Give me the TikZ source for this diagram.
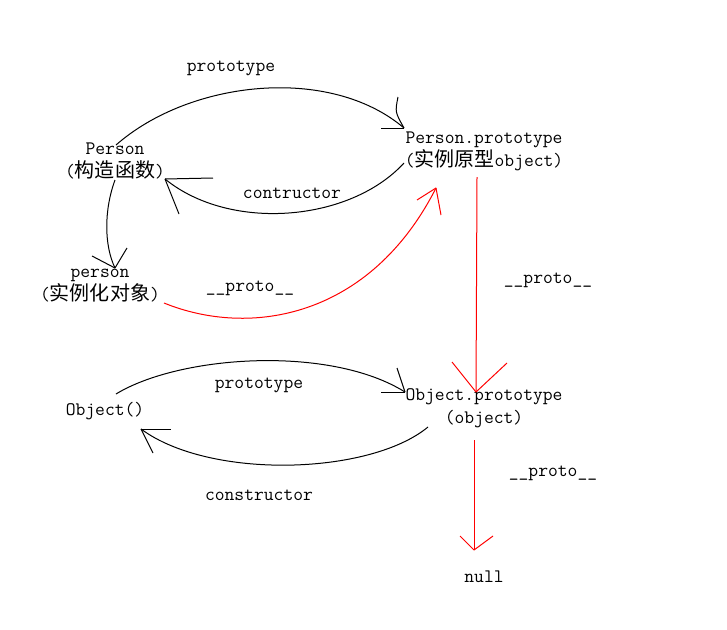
\documentclass[tikz,border=0pt]{standalone}
\usepackage{fontspec}
\newfontfamily\cjk{Noto Sans CJK SC}[Scale=1.05]
\usetikzlibrary{positioning}

\begin{document}
\begin{tikzpicture}[
    x=1pt, y=-1pt,
    word/.style={font=\ttfamily\fontsize{19.05}{23}\selectfont, inner sep=0pt, align=center},
    link/.style={line width=1pt, color=black},
    protolink/.style={line width=1pt, color=red}
  ]
    \useasboundingbox (0,0) rectangle (727,629);

    % objects
    \node[word] (Person) at (115,161) {Person\\({\cjk 构造函数})};
    \node[word] (PersonProto) at (484,151.5) {Person.prototype\\({\cjk 实例原型}object)};
    \node[word] (person) at (100,286) {person\\({\cjk 实例化对象})};
    \node[word] (Object) at (105,411) {Object()};
    \node[word] (ObjectProto) at (484,408.5) {Object.prototype\\(object)};
    \node[word] (null) at (484,577) {null};

    % labels
    \node[word] (protoLabelA) at (231,68) {prototype};
    \node[word] (ctorLabelA) at (292,193) {contructor};
    \node[word] (dunderA) at (250,288) {\_\_proto\_\_};
    \node[word] (dunderB) at (548,280) {\_\_proto\_\_};
    \node[word] (protoLabelB) at (259,385) {prototype};
    \node[word] (ctorLabelB) at (259,495) {constructor};
    \node[word] (dunderC) at (553,473) {\_\_proto\_\_};

    % ends of the connectors
    \coordinate (PersonOut) at (116,145);
    \coordinate (PersonDown) at (115,180);
    \coordinate (PersonIn) at (165,179);
    \coordinate (PProtoIn) at (404,128);
    \coordinate (PProtoOut) at (404,163);
    \coordinate (PProtoRed) at (436,188);
    \coordinate (PProtoDown) at (477,177);
    \coordinate (personIn) at (115,268);
    \coordinate (personOut) at (164,303);
    \coordinate (ObjectOut) at (116,394);
    \coordinate (ObjectIn) at (141,429);
    \coordinate (OProtoIn) at (405,392);
    \coordinate (OProtoTop) at (476,392);
    \coordinate (OProtoOut) at (428,427);
    \coordinate (OProtoDown) at (474,440);
    \coordinate (nullIn) at (474,550);

    % Person <-> Person.prototype
    \draw[link] (PersonOut) .. controls (190,80) and (330,65) .. (PProtoIn);
    \draw[link] (PProtoIn) -- ++(-23,0);
    \draw[link] (PProtoIn) .. controls (395,112) .. ++(-6,-31);

    \draw[link] (PProtoOut) .. controls (350,222) and (230,232) .. (PersonIn);
    \draw[link] (PersonIn) -- ++(48,-1);
    \draw[link] (PersonIn) -- ++(14,35);

    % Person -> person
    \draw[link] (PersonDown) .. controls (104,210) and (104,245) .. (personIn);
    \draw[link] (personIn) -- ++(-23,-12);
    \draw[link] (personIn) -- ++(12,-20);

    % person -> Person.prototype
    \draw[protolink] (personOut) .. controls (250,338) and (370,318) .. (PProtoRed);
    \draw[protolink] (PProtoRed) -- ++(-19,12);
    \draw[protolink] (PProtoRed) -- ++(5,27);

    % Person.prototype -> Object.prototype
    \draw[protolink] (PProtoDown) -- (OProtoTop);
    \draw[protolink] (OProtoTop) -- ++(-24,-30);
    \draw[protolink] (OProtoTop) -- ++(31,-29);

    % Object <-> Object.prototype
    \draw[link] (ObjectOut) .. controls (180,355) and (330,345) .. (OProtoIn);
    \draw[link] (OProtoIn) -- ++(-24,0);
    \draw[link] (OProtoIn) -- ++(-8,-24);

    \draw[link] (OProtoOut) .. controls (370,475) and (210,480) .. (ObjectIn);
    \draw[link] (ObjectIn) -- ++(30,0);
    \draw[link] (ObjectIn) -- ++(12,24);

    % Object.prototype -> null
    \draw[protolink] (OProtoDown) -- (nullIn);
    \draw[protolink] (nullIn) -- ++(-14,-14);
    \draw[protolink] (nullIn) -- ++(19,-14);

\end{tikzpicture}
\end{document}
